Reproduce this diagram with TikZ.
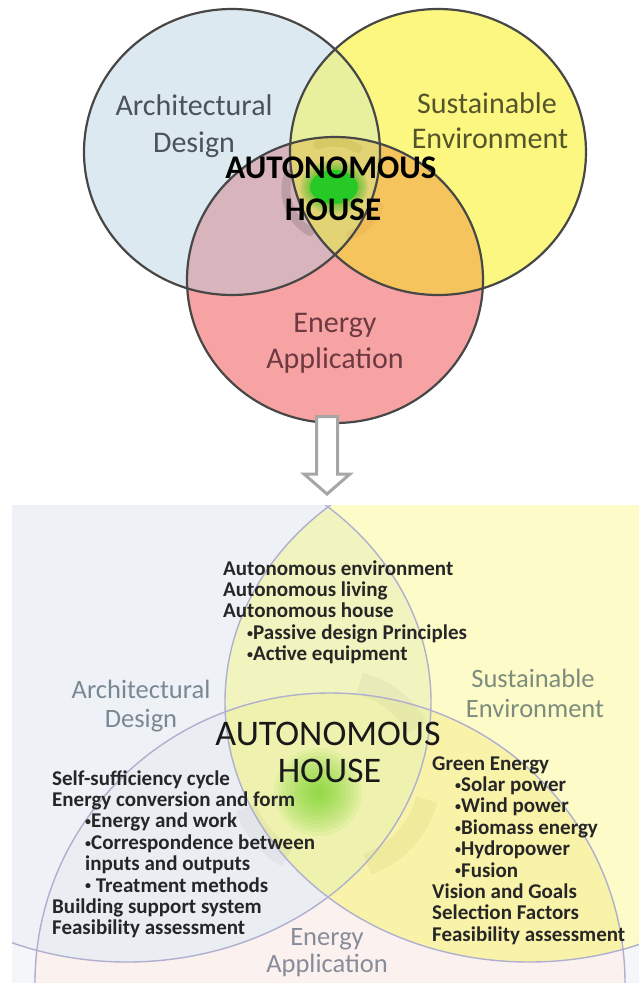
\documentclass[tikz,border=0pt]{standalone}
\usepackage{fontspec}
\setmainfont{Carlito}
\newcommand\smalldot{\raisebox{0.2ex}{\fontsize{12}{12}\selectfont•}}
\begin{document}
\begin{tikzpicture}[x=1pt,y=-1pt,
  ringline/.style={draw=black!72, line width=2.2pt},
  paleline/.style={draw=gray!75!blue!50, line width=1.4pt},
  bigname/.style={anchor=base, inner sep=0pt, font=\fontsize{30}{36}\selectfont},
  smallname/.style={anchor=base, inner sep=0pt, font=\fontsize{26.5}{32}\selectfont},
  listline/.style={anchor=base west, inner sep=0pt, text=black!85, font=\bfseries\fontsize{21}{22}\selectfont}]
\useasboundingbox (0,0) rectangle (639,983);
\pgfmathsetmacro\rx{148};
\pgfmathsetmacro\ry{143};
\pgfmathsetmacro\brx{304};
\pgfmathsetmacro\bry{260};
\pgfmathsetmacro\lstep{21.4};
\definecolor{archblue}{HTML}{DDE9F1}
\definecolor{susyellow}{HTML}{FBF780}
\definecolor{energyred}{HTML}{F7A3A3}
\definecolor{archsus}{HTML}{E8F09E}
\definecolor{archenergy}{HTML}{D8B4BC}
\definecolor{susenergy}{HTML}{F6C45C}
\definecolor{allthree}{HTML}{E2D374}
\definecolor{archtext}{HTML}{4C525A}
\definecolor{sustext}{HTML}{55552C}
\definecolor{energytext}{HTML}{6E3A42}
\foreach \cx/\cy/\col in {232/152/archblue, 438/152/susyellow, 335/280/energyred}
  \fill[\col] (\cx,\cy) ellipse [x radius=\rx, y radius=\ry];
\foreach \ax/\ay/\bx/\by/\col in {232/152/438/152/archsus, 232/152/335/280/archenergy, 438/152/335/280/susenergy} {
  \begin{scope}
  \clip (\ax,\ay) ellipse [x radius=\rx, y radius=\ry];
  \fill[\col] (\bx,\by) ellipse [x radius=\rx, y radius=\ry];
  \end{scope}
}
\begin{scope}
\clip (232,152) ellipse [x radius=\rx, y radius=\ry];
\clip (438,152) ellipse [x radius=\rx, y radius=\ry];
\fill[allthree] (335,280) ellipse [x radius=\rx, y radius=\ry];
\end{scope}
\foreach \a/\b/\col in {120/200/black, 20/70/brown, 250/300/olive}
  \draw[line width=9pt, \col, opacity=0.12, line cap=round] ([shift={(\a:48)}]334,190) arc [start angle=\a, end angle=\b, radius=48];
\foreach \r in {2,4,...,10} \fill[green!70!black, opacity=0.1] (334,187) ellipse [x radius=24+\r, y radius=17+\r];
\fill[green!75!black!85] (334,187) ellipse [x radius=24, y radius=17];
\foreach \cx/\cy in {232/152, 438/152, 335/280}
  \draw[ringline] (\cx,\cy) ellipse [x radius=\rx, y radius=\ry];
\node[bigname, text=archtext] (archtop) at (194,115) {Architectural};
\node[bigname, text=archtext] (designtop) at (194,152) {Design};
\node[bigname, text=sustext] (sustop) at (487,113) {Sustainable};
\node[bigname, text=sustext] (envtop) at (490,148) {Environment};
\node[bigname, text=energytext] (energytop) at (335,332) {Energy};
\node[bigname, text=energytext] (apptop) at (335,368) {Application};
\node[anchor=base, inner sep=0pt, font=\bfseries\fontsize{33}{40}\selectfont] (autotop) at (331,178) {AUTONOMOUS};
\node[anchor=base, inner sep=0pt, font=\bfseries\fontsize{33}{40}\selectfont] (housetop) at (333,220) {HOUSE};
\draw[line width=3pt, draw=gray!70, fill=white, line join=miter] (316.5,416.5) -- (337.5,416.5) -- (337.5,474) -- (350,474) -- (327,494) -- (304,474) -- (316.5,474) -- cycle;
\definecolor{panelbg}{HTML}{F5F6F9}
\definecolor{archpale}{HTML}{EEF1F6}
\definecolor{suspale}{HTML}{FDFBC8}
\definecolor{energypale}{HTML}{FBF1EE}
\definecolor{archsuspale}{HTML}{F1F4BE}
\definecolor{archenergypale}{HTML}{EAEDF2}
\definecolor{susenergypale}{HTML}{F9F3AA}
\definecolor{allpale}{HTML}{EFF2AE}
\definecolor{archpaletext}{HTML}{7A8894}
\definecolor{suspaletext}{HTML}{7D8C7E}
\definecolor{energypaletext}{HTML}{878C9A}
\begin{scope}
\clip (12,505) rectangle (639,983);
\fill[panelbg] (12,505) rectangle (639,983);
\fill[archpale] (127,702) ellipse [x radius=\brx, y radius=\bry];
\fill[suspale] (529,702) ellipse [x radius=\brx, y radius=\bry];
\fill[energypale] (330,983) ellipse [x radius=295, y radius=290];
\begin{scope}
\clip (127,702) ellipse [x radius=\brx, y radius=\bry];
\fill[archsuspale] (529,702) ellipse [x radius=\brx, y radius=\bry];
\fill[archenergypale] (330,983) ellipse [x radius=295, y radius=290];
\clip (529,702) ellipse [x radius=\brx, y radius=\bry];
\fill[allpale] (330,983) ellipse [x radius=295, y radius=290];
\end{scope}
\begin{scope}
\clip (529,702) ellipse [x radius=\brx, y radius=\bry];
\clip (330,983) ellipse [x radius=295, y radius=290];
\fill[susenergypale, even odd rule] (127,702) ellipse [x radius=\brx, y radius=\bry] (12,505) rectangle (639,983);
\end{scope}
\foreach \a/\b/\col in {15/70/olive, 285/330/gray, 120/160/gray}
  \draw[line width=22pt, \col, opacity=0.08] ([shift={(\a:95)}]335,775) arc [start angle=\a, end angle=\b, radius=95];
\foreach \r in {4,8,...,44} \fill[green!60!yellow!80!black, opacity=0.07] (318,792) circle [radius=\r];
\draw[paleline] (127,702) ellipse [x radius=\brx, y radius=\bry];
\draw[paleline] (529,702) ellipse [x radius=\brx, y radius=\bry];
\draw[paleline] (330,983) ellipse [x radius=295, y radius=290];
\end{scope}
\node[smallname, text=archpaletext] (archbot) at (141,698) {Architectural};
\node[smallname, text=archpaletext] (designbot) at (141,727) {Design};
\node[smallname, text=suspaletext] (susbot) at (533,687) {Sustainable};
\node[smallname, text=suspaletext] (envbot) at (535,717) {Environment};
\node[smallname, text=energypaletext] (energybot) at (327,945) {Energy};
\node[smallname, text=energypaletext] (appbot) at (327,972) {Application};
\node[anchor=base, inner sep=0pt, text=black!90, font=\fontsize{36}{42}\selectfont] (autobot) at (328,745) {AUTONOMOUS};
\node[anchor=base, inner sep=0pt, text=black!90, font=\fontsize{36}{42}\selectfont] (housebot) at (329.5,782) {HOUSE};
\foreach \dx/\txt [count=\i from 0] in {0/Autonomous environment, 0/Autonomous living, 0/Autonomous house, 24/\smalldot Passive design Principles, 24/\smalldot Active equipment}
  \node[listline] (top-\i) at (223+\dx,575+\i*\lstep) {\txt};
\foreach \dx/\txt [count=\i from 0] in {0/Self-sufficiency cycle, 0/Energy conversion and form, 33/\smalldot Energy and work, 33/\smalldot Correspondence between, 33/inputs and outputs, 33/\smalldot\ Treatment methods, 0/Building support system, 0/Feasibility assessment}
  \node[listline] (left-\i) at (52+\dx,785+\i*\lstep) {\txt};
\foreach \dx/\txt [count=\i from 0] in {0/Green Energy, 23/\smalldot Solar power, 23/\smalldot Wind power, 23/\smalldot Biomass energy, 23/\smalldot Hydropower, 23/\smalldot Fusion, 0/Vision and Goals, 0/Selection Factors, 0/Feasibility assessment}
  \node[listline] (right-\i) at (432+\dx,770+\i*\lstep) {\txt};
\end{tikzpicture}
\end{document}
